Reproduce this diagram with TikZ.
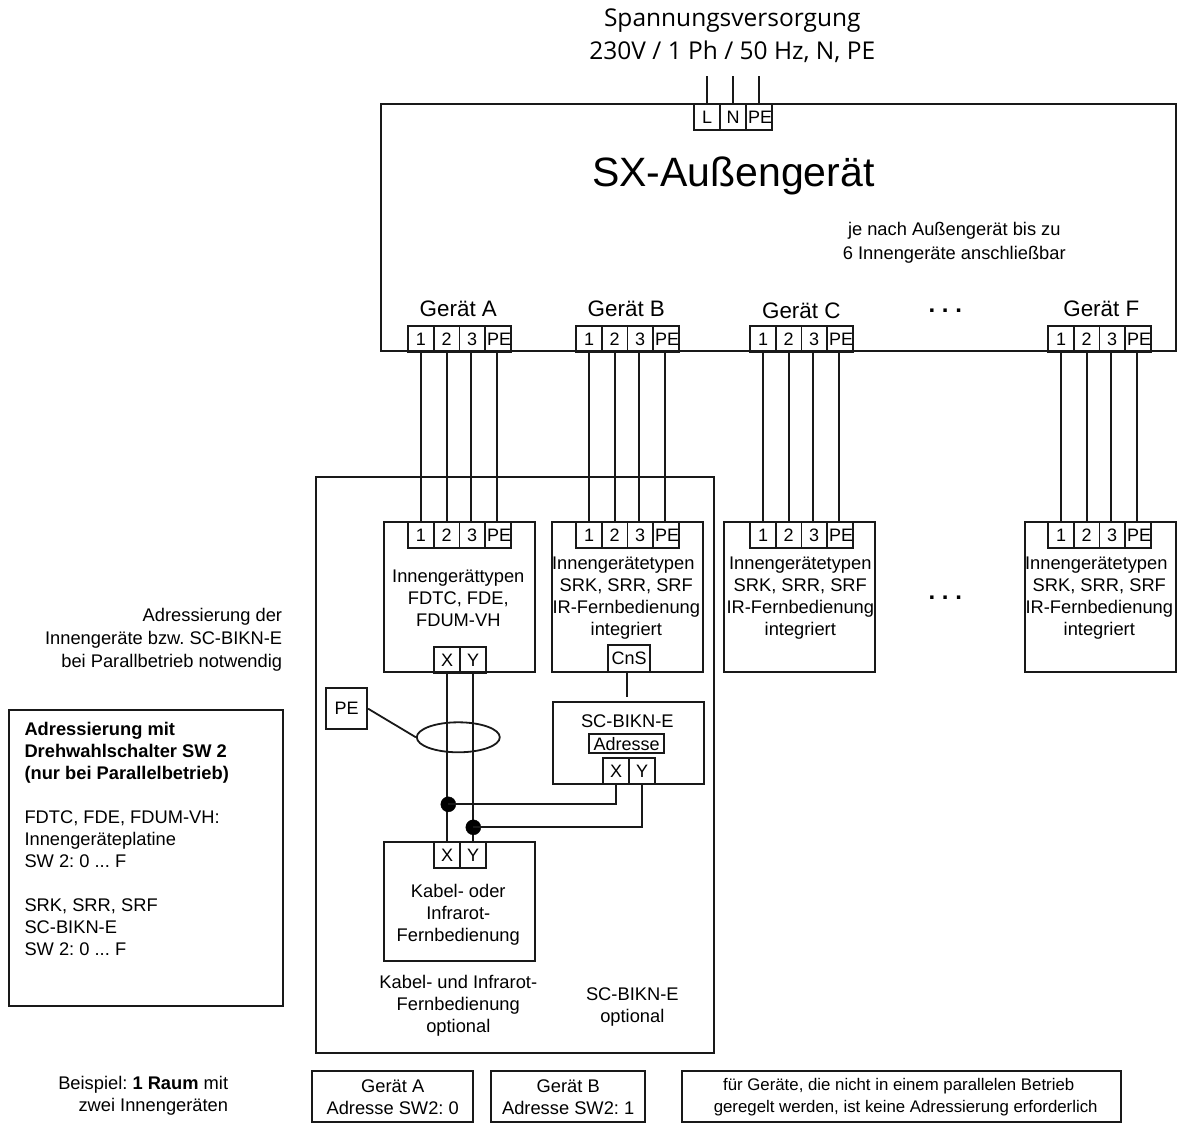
\documentclass[tikz,border=0pt]{standalone}
\usepackage{fontspec}
\setmainfont{Liberation Sans}
\newfontfamily\topfont{Open Sans}
\usetikzlibrary{shapes.geometric}
\AtBeginDocument{\frenchspacing}
\tikzset{
  ln/.style={line width=1.8pt,draw=black!90},
  cell/.style={ln,rectangle,minimum width=25.6pt,minimum height=25.6pt,inner sep=0pt,anchor=north west,font=\fontsize{18}{20}\selectfont},
  box/.style={ln,rectangle,inner sep=0pt,anchor=north west},
  txt/.style={inner sep=0pt,align=center,font=\fontsize{18.3}{22}\selectfont},
  txtr/.style={inner sep=0pt,align=right,anchor=east,font=\fontsize{18.3}{22}\selectfont},
  txtl/.style={inner sep=0pt,align=left,anchor=north west,font=\fontsize{18.3}{22}\selectfont},
  head/.style={inner sep=0pt,font=\fontsize{22.4}{26}\selectfont},
  dot/.style={circle,fill=black,draw=black,inner sep=0pt,minimum size=15pt},
  wire/.style={ln}
}
\newcommand{\terminals}[3]{%
  \node[cell] (#1a) at (#2,#3) {1};
  \node[cell] (#1b) at (#2+25.6,#3) {2};
  \node[cell] (#1c) at (#2+51.2,#3) {3};
  \node[cell] (#1d) at (#2+76.8,#3) {\hspace*{2pt}PE};
}
\begin{document}
\begin{tikzpicture}[x=1pt,y=-1pt]
\useasboundingbox (0.7,0.7) rectangle (1184.7,1124.7);
% power
\node[inner sep=0pt,align=center,font=\topfont\fontsize{24.5}{33}\selectfont] (supply) at (733,36) {Spannungsversorgung\\230V / 1 Ph / 50 Hz, N, PE};
% outdoor unit
\node[box,minimum width=795pt,minimum height=247pt] (out) at (381,104) {};
\node[cell] (pl) at (694,104) {L};
\node[cell] (pn) at (720,104) {N};
\node[cell] (pp) at (746,104) {\hspace*{2pt}PE};
\coordinate (sl) at (pl.north |- 0,77);\coordinate (sn) at (pn.north |- 0,77);\coordinate (sp) at (pp.north |- 0,77);
\draw[wire] (sl) -- (pl.north);
\draw[wire] (sn) -- (pn.north);
\draw[wire] (sp) -- (pp.north);
\node[inner sep=0pt,font=\fontsize{41}{48}\selectfont] (title) at (734,177) {SX-Außengerät};
\node[inner sep=0pt,align=center,font=\fontsize{18.3}{24}\selectfont] (note) at (955,243) {je nach Außengerät bis zu\\6 Innengeräte anschließbar};
\node[head] (ga) at (459,309) {Gerät A};
\node[head] (gb) at (627,309) {Gerät B};
\node[head] (gc) at (802,311) {Gerät C};
\node[head] (gf) at (1102,309) {Gerät F};
\node[inner sep=0pt,font=\bfseries\fontsize{24}{26}\selectfont] (dots1) at (946,311) {. . .};
\terminals{oa}{408}{326}
\terminals{ob}{576}{326}
\terminals{oc}{750}{326}
\terminals{of}{1048}{326}
% group
\node[box,minimum width=398pt,minimum height=576pt] (group) at (316,477) {};
% indoor
\node[box,minimum width=151pt,minimum height=150pt] (ia) at (384,522) {};
\node[box,minimum width=151pt,minimum height=150pt] (ib) at (552,522) {};
\node[box,minimum width=151pt,minimum height=150pt] (ic) at (724,522) {};
\node[box,minimum width=151pt,minimum height=150pt] (if) at (1025,522) {};
\terminals{ta}{408}{522}
\terminals{tb}{576}{522}
\terminals{tc}{750}{522}
\terminals{tf}{1048}{522}
\foreach \p/\q in {oa/ta,ob/tb,oc/tc,of/tf}{
  \draw[wire] (\p a.south) -- (\q a.north);
  \draw[wire] (\p b.south) -- (\q b.north);
  \draw[wire] ([xshift=-1pt]\p c.south) -- ([xshift=-1pt]\q c.north);
  \draw[wire] ([xshift=-1pt]\p d.south) -- ([xshift=-1pt]\q d.north);
}
\node[txt] (ta1) at (459,599) {Innengerättypen\\FDTC, FDE,\\FDUM-VH};
\node[txt] (tb1) at (627,599) {\hspace*{-6pt}Innengerätetypen\\SRK, SRR, SRF\\IR-Fernbedienung\\integriert};
\node[txt] (tc1) at (801,599) {Innengerätetypen\\SRK, SRR, SRF\\IR-Fernbedienung\\integriert};
\node[txt] (tf1) at (1100,599) {\hspace*{-6pt}Innengerätetypen\\SRK, SRR, SRF\\IR-Fernbedienung\\integriert};
\node[inner sep=0pt,font=\bfseries\fontsize{24}{26}\selectfont] (dots2) at (946,598) {. . .};
\node[cell] (ax) at (434,647) {X};
\node[cell] (ay) at (460,647) {Y};
\node[cell,minimum width=42pt,minimum height=27pt] (cns) at (608,645) {CnS};
% BIKN
\node[box,minimum width=151pt,minimum height=82pt] (bikn) at (553,702) {};
\node[txt] (biknt) at (628,722) {SC-BIKN-E};
\node[box,minimum width=75pt,minimum height=19pt,font=\fontsize{18}{20}\selectfont] (addr) at (589,734) {Adresse};
\node[cell] (bx) at (603,758) {X};
\node[cell] (by) at (629,758) {Y};
\coordinate (cnsb) at ([xshift=-2pt]cns.south);
\coordinate (biknt0) at ([yshift=4pt]cnsb |- bikn.north);
\draw[wire] (cnsb) -- (biknt0);
% remote
\node[box,minimum width=151pt,minimum height=119pt] (rem) at (384,842) {};
\node[cell] (rx) at (434,842) {X};
\node[cell] (ry) at (460,842) {Y};
\node[txt] (remt) at (459,915) {Kabel- oder\\Infrarot-\\Fernbedienung};
\draw[wire] (ax.south) -- (rx.north);
\draw[wire] (ay.south) -- (ry.north);
% PE
\node[box,minimum width=41pt,minimum height=41pt,font=\fontsize{18}{20}\selectfont] (pe) at (326,688) {PE};
\node[ellipse,ln,minimum width=83pt,minimum height=30pt,inner sep=0pt] (ell) at (459,738) {};
\draw[wire] (pe.east) -- (ell.west);
\node[dot] (d1) at (449,805) {};
\node[dot] (d2) at (474,828) {};
\draw[wire] (d1.center) -| (bx.south);
\draw[wire] (d2.center) -| (by.south);
% notes
\node[txtr,font=\fontsize{18.3}{23}\selectfont] (addrnote) at (283,640) {Adressierung der\\Innengeräte bzw. SC-BIKN-E\\bei Parallbetrieb notwendig};
\node[box,minimum width=274pt,minimum height=296pt] (left) at (9,710) {};
\node[txtl] (leftt) at (25,723) {\textbf{Adressierung mit}\\\textbf{Drehwahlschalter SW 2}\\\textbf{(nur bei Parallelbetrieb)}\\[22pt]FDTC, FDE, FDUM-VH:\\Innengeräteplatine\\SW 2: 0 ... F\\[22pt]SRK, SRR, SRF\\SC-BIKN-E\\SW 2: 0 ... F};
\node[txt] (opt1) at (459,1006) {Kabel- und Infrarot-\\Fernbedienung\\optional};
\node[txt] (opt2) at (633,1008) {SC-BIKN-E\\optional};
% bottom
\node[txtr] (bsp) at (229,1096) {Beispiel: \textbf{1 Raum} mit\\zwei Innengeräten};
\node[box,minimum width=161pt,minimum height=51pt,align=center,font=\fontsize{18.3}{22}\selectfont] (b1) at (312,1071) {Gerät A\\Adresse SW2: 0};
\node[box,minimum width=154pt,minimum height=51pt,align=center,font=\fontsize{18.3}{22}\selectfont] (b2) at (491,1071) {Gerät B\\Adresse SW2: 1};
\node[box,minimum width=439pt,minimum height=51pt,align=center,font=\fontsize{16.8}{22}\selectfont] (b3) at (682,1071) {\hspace*{-6pt}für Geräte, die nicht in einem parallelen Betrieb\\\hspace*{8pt}geregelt werden, ist keine Adressierung erforderlich};
\end{tikzpicture}
\end{document}
